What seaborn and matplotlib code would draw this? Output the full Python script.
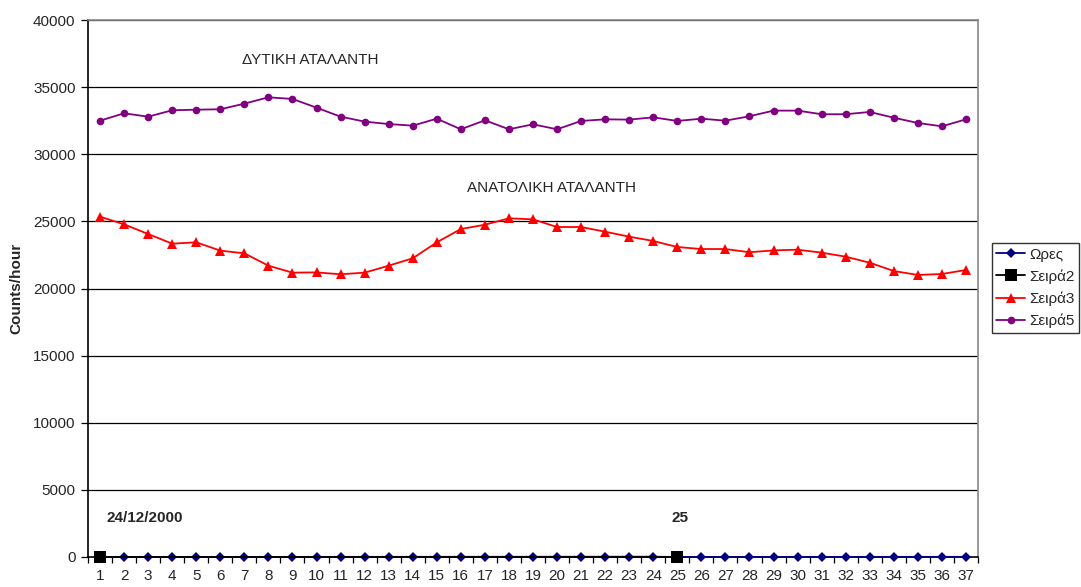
import numpy as np
import pandas as pd
import matplotlib
matplotlib.use("Agg")
import matplotlib.pyplot as plt
import seaborn as sns

# x categories (hour index)
points = list(range(1, 38))

# Ωρες - hour of day column (sits at ~0 on this scale)
hours = list(range(0, 24)) + list(range(0, 13))

# Σειρά2 - day markers at start of each date
day_marks = [0] + [np.nan] * 23 + [0] + [np.nan] * 12

# Σειρά3 - ΑΝΑΤΟΛΙΚΗ ΑΤΑΛΑΝΤΗ
east = [25350, 24780, 24060, 23340, 23440, 22820, 22620, 21700, 21180, 21200,
        21060, 21180, 21700, 22250, 23440, 24430, 24750, 25230, 25150, 24580,
        24580, 24230, 23860, 23540, 23090, 22940, 22940, 22700, 22840, 22890,
        22670, 22370, 21920, 21300, 21010, 21080, 21380]

# Σειρά5 - ΔΥΤΙΚΗ ΑΤΑΛΑΝΤΗ
west = [32500, 33050, 32800, 33275, 33320, 33350, 33770, 34240, 34120, 33470,
        32800, 32430, 32250, 32130, 32650, 31860, 32530, 31860, 32230, 31860,
        32480, 32600, 32580, 32750, 32480, 32650, 32500, 32830, 33250, 33250,
        32980, 32980, 33150, 32720, 32330, 32080, 32600]

df = pd.DataFrame({"x": points, "Ωρες": hours, "Σειρά2": day_marks,
                   "Σειρά3": east, "Σειρά5": west})

sns.set_style("white")
plt.rcParams["font.family"] = ["Liberation Sans", "DejaVu Sans"]

fig = plt.figure(figsize=(10.81, 5.87), dpi=100)
ax = fig.add_axes([88 / 1081, 30 / 587, 890 / 1081, 537 / 587])

# horizontal gridlines
for yv in range(5000, 40001, 5000):
    ax.axhline(yv, color="black", lw=0.9, zorder=0)

series = [("Ωρες", "#000080", "D", 5),
          ("Σειρά2", "black", "s", 8.5),
          ("Σειρά3", "#ff0000", "^", 6.5),
          ("Σειρά5", "#800080", "o", 5.5)]
for name, col, mk, ms in series:
    sns.lineplot(data=df, x="x", y=name, ax=ax, color=col, marker=mk,
                 markersize=ms, markeredgewidth=0, lw=1.3, label=name,
                 clip_on=False, zorder=3)

ax.set_xlim(0.5, 37.5)
ax.set_ylim(0, 40000)
ax.set_yticks(range(0, 40001, 5000))
ax.set_xticks(points)
ax.set_xticks(np.arange(0.5, 38, 1), minor=True)
ax.tick_params(axis="x", which="major", length=0, labelsize=11, pad=9)
ax.tick_params(axis="x", which="minor", length=4, width=0.9, direction="out",
               color="black", bottom=True)
ax.tick_params(axis="y", length=5, width=0.9, direction="out", labelsize=11,
               color="black", left=True, pad=4)
ax.set_xlabel("")
ax.set_ylabel("Counts/hour", fontsize=11, fontweight="bold", labelpad=7)

for side in ["top", "right"]:
    ax.spines[side].set_color("#888888")
    ax.spines[side].set_linewidth(1.2)
for side in ["left", "bottom"]:
    ax.spines[side].set_color("black")
    ax.spines[side].set_linewidth(1.2)

ax.text(9.76, 37000, "ΔΥΤΙΚΗ ΑΤΑΛΑΝΤΗ", ha="center", va="center", fontsize=11)
ax.text(19.77, 27500, "ΑΝΑΤΟΛΙΚΗ ΑΤΑΛΑΝΤΗ", ha="center", va="center", fontsize=11)
ax.text(1.25, 2900, "24/12/2000", ha="left", va="center", fontsize=11,
        fontweight="bold")
ax.text(25.13, 2900, "25", ha="center", va="center", fontsize=11,
        fontweight="bold")

handles, labels = ax.get_legend_handles_labels()
ax.legend_.remove()
fig.legend(handles, labels, loc="upper right", bbox_to_anchor=(1079 / 1081, 1 - 243 / 587),
           frameon=True, fancybox=False, edgecolor="black", fontsize=11,
           handlelength=1.9, handletextpad=0.25, borderpad=0.3, labelspacing=0.5,
           borderaxespad=0)

fig.savefig("out.png", dpi=100)
